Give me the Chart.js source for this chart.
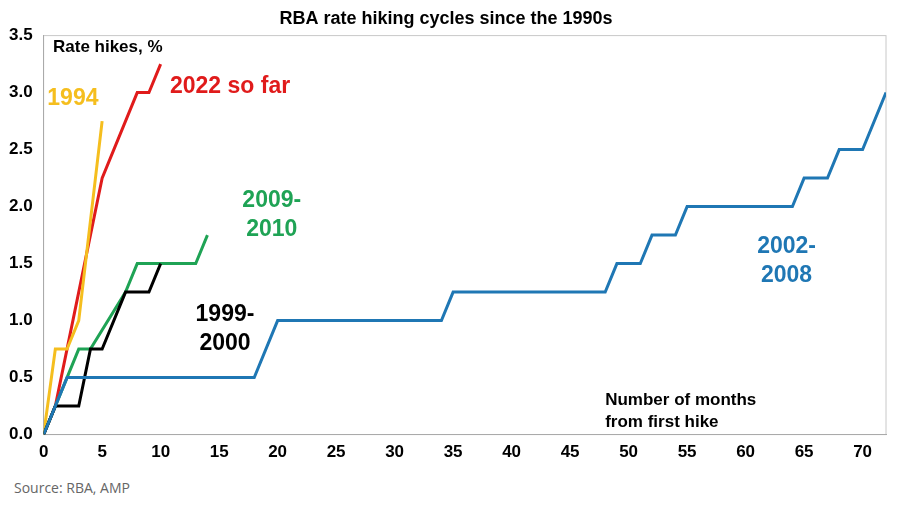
<!DOCTYPE html>
<html>
<head>
<meta charset="utf-8">
<script src="https://cdn.jsdelivr.net/npm/chart.js@4/dist/chart.umd.min.js"></script>
<style>
  body { margin: 0; background: #fff; font-family: Arial, "Liberation Sans", sans-serif; }
  #wrap { position: relative; width: 900px; height: 470px; }
  #source { position: absolute; left: 14px; top: 478px; font: 14px "Open Sans", sans-serif; color: #666; }
</style>
</head>
<body>
<div id="wrap"><canvas id="chart" width="900" height="470"></canvas></div>
<div id="source">Source: RBA, AMP</div>
<script>
// months from first hike / cumulative hikes, %
const m1994 = [0, 1, 2, 3, 5];
const v1994 = [0, 0.75, 0.75, 1.0, 2.75];
const m2022 = [0, 1, 2, 3, 4, 5, 6, 7, 8, 9, 10];
const v2022 = [0, 0.25, 0.75, 1.25, 1.75, 2.25, 2.5, 2.75, 3.0, 3.0, 3.25];
const m2009 = [0, 1, 2, 3, 4, 7, 8, 13, 14];
const v2009 = [0, 0.25, 0.5, 0.75, 0.75, 1.25, 1.5, 1.5, 1.75];
const m1999 = [0, 1, 3, 4, 5, 7, 9, 10];
const v1999 = [0, 0.25, 0.25, 0.75, 0.75, 1.25, 1.25, 1.5];
const m2002 = [0, 1, 2, 18, 20, 34, 35, 48, 49, 51, 52, 54, 55, 64, 65, 67, 68, 70, 72];
const v2002 = [0, 0.25, 0.5, 0.5, 1.0, 1.0, 1.25, 1.25, 1.5, 1.5, 1.75, 1.75, 2.0, 2.0, 2.25, 2.25, 2.5, 2.5, 3.0];
const xTicks = [0, 5, 10, 15, 20, 25, 30, 35, 40, 45, 50, 55, 60, 65, 70];

const pts = (ms, vs) => ms.map((m, i) => ({ x: m, y: vs[i] }));
const line = (label, ms, vs, color) => ({
  label, data: pts(ms, vs), borderColor: color, borderWidth: 3,
  pointRadius: 0, tension: 0, fill: false
});

// text labels inside the plot, placed by data coordinates
const notes = [
  { text: ["Rate hikes, %"], x: 0.8, y: 3.4, color: "#000", align: "left" },
  { text: ["1994"], x: 2.5, y: 2.95, color: "#f5be1e", align: "center" },
  { text: ["2022 so far"], x: 10.8, y: 3.05, color: "#e01b1b", align: "left" },
  { text: ["2009-", "2010"], x: 19.5, y: 2.05, color: "#1fa355", align: "center" },
  { text: ["1999-", "2000"], x: 15.5, y: 1.05, color: "#000", align: "center" },
  { text: ["2002-", "2008"], x: 63.5, y: 1.65, color: "#1f77b4", align: "center" },
  { text: ["Number of months", "from first hike"], x: 48, y: 0.3, color: "#000", align: "left" }
];

const notesPlugin = {
  id: "notes",
  afterDatasetsDraw(chart) {
    const { ctx, scales: { x, y } } = chart;
    ctx.save();
    ctx.textBaseline = "middle";
    notes.forEach(n => {
      const big = n.text[0].length < 12 && n.text[0] !== "Rate hikes, %";
      ctx.font = big ? "bold 23px Arial" : "bold 17px Arial";
      ctx.fillStyle = n.color;
      ctx.textAlign = n.align;
      const lh = big ? 29 : 22;
      n.text.forEach((t, i) => ctx.fillText(t, x.getPixelForValue(n.x), y.getPixelForValue(n.y) + i * lh));
    });
    ctx.restore();
  }
};

new Chart(document.getElementById("chart"), {
  type: "line",
  data: {
    datasets: [
      line("2002-2008", m2002, v2002, "#1f77b4"),
      line("1999-2000", m1999, v1999, "#000000"),
      line("2009-2010", m2009, v2009, "#1fa355"),
      line("1994", m1994, v1994, "#f5be1e"),
      line("2022 so far", m2022, v2022, "#e01b1b")
    ]
  },
  options: {
    responsive: false,
    animation: false,
    layout: { padding: { left: 6, right: 14, top: 0, bottom: 4 } },
    plugins: {
      legend: { display: false },
      tooltip: { enabled: false },
      title: {
        display: true, text: "RBA rate hiking cycles since the 1990s",
        color: "#000", font: { size: 18, weight: "bold", family: "Arial" },
        padding: { top: 8, bottom: 6 }
      }
    },
    scales: {
      x: {
        type: "linear", min: 0, max: 72,
        afterBuildTicks: ax => { ax.ticks = xTicks.map(v => ({ value: v })); },
        grid: { display: false, drawTicks: true, tickLength: 5 },
        border: { color: "#aaa" },
        ticks: { color: "#000", font: { size: 17, weight: "bold", family: "Arial" }, maxRotation: 0, autoSkip: false }
      },
      y: {
        min: 0, max: 3.5,
        afterBuildTicks: ax => { ax.ticks = [0, 0.5, 1, 1.5, 2, 2.5, 3, 3.5].map(v => ({ value: v })); },
        grid: { display: false },
        border: { color: "#aaa" },
        ticks: { autoSkip: false, color: "#000", font: { size: 17, weight: "bold", family: "Arial" }, callback: v => v.toFixed(1) }
      }
    }
  },
  plugins: [notesPlugin, {
    id: "frame",
    beforeDraw(chart) {
      const { ctx, chartArea: a } = chart;
      ctx.save();
      ctx.strokeStyle = "#c8c8c8";
      ctx.lineWidth = 1;
      ctx.strokeRect(a.left, a.top, a.right - a.left, a.bottom - a.top);
      ctx.restore();
    }
  }]
});
</script>
</body>
</html>
